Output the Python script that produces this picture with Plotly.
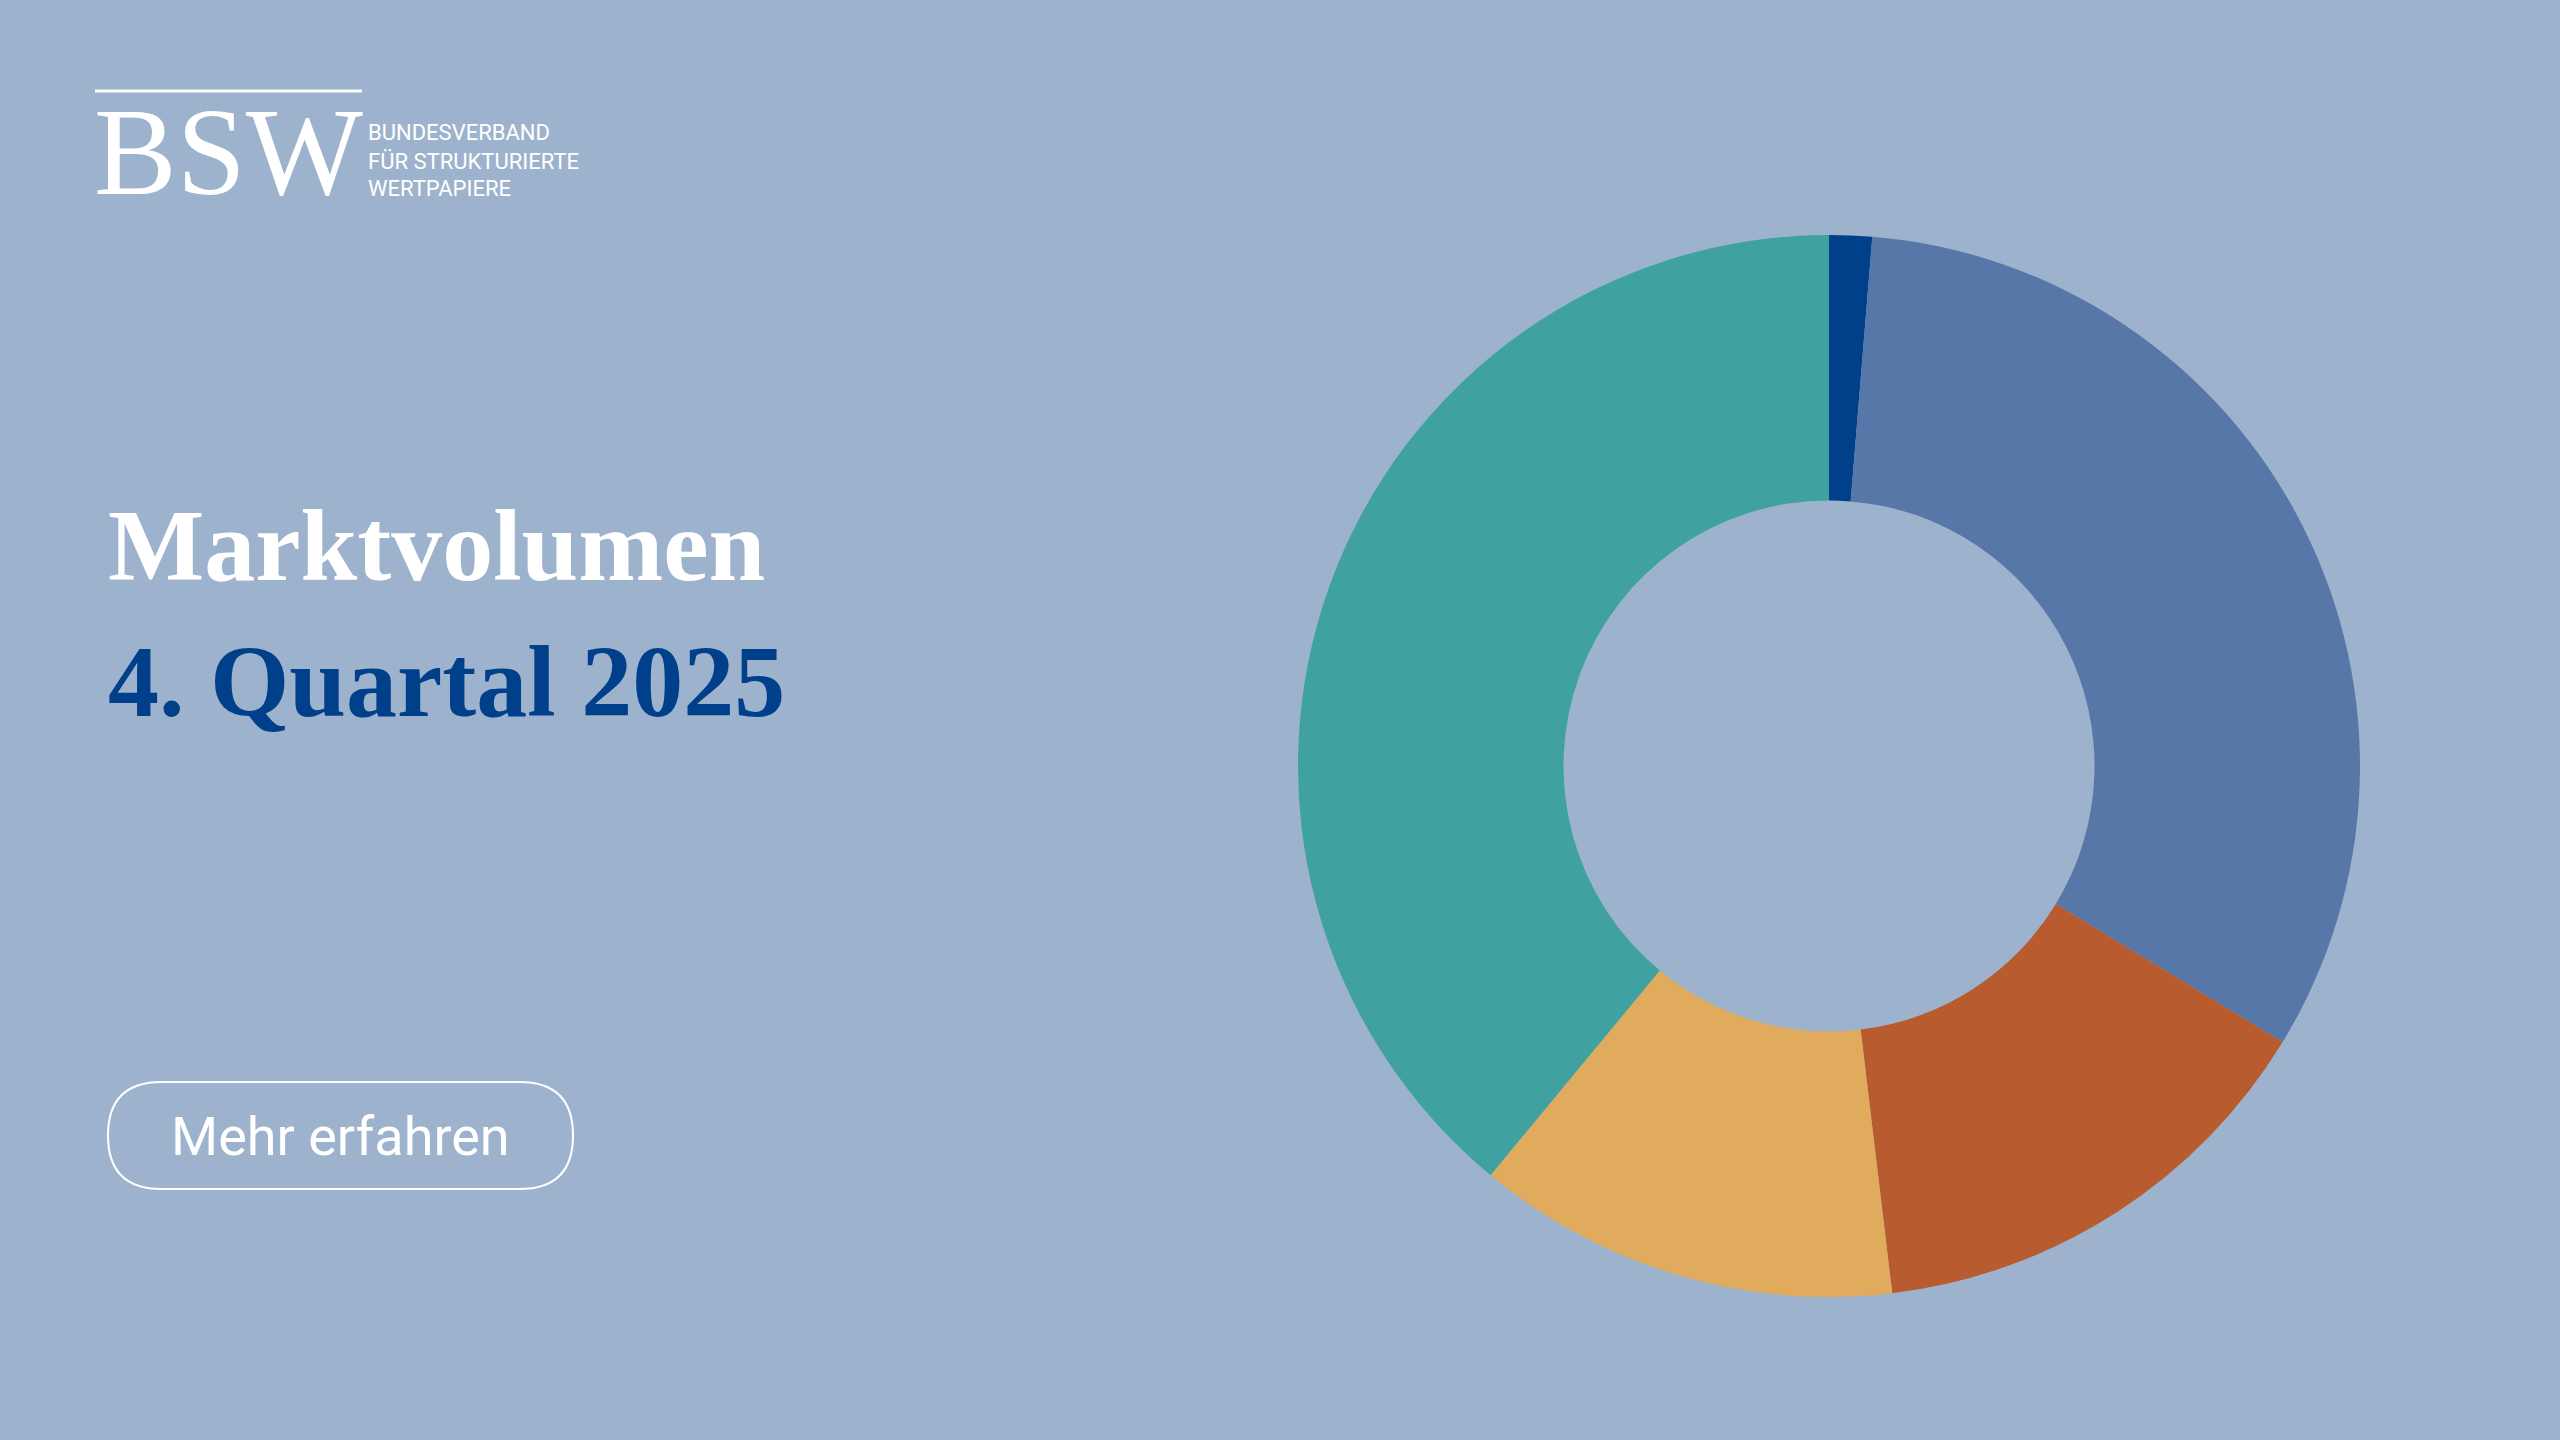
import plotly.graph_objects as go

W, H = 2560, 1440
labels = ["Segment A", "Segment B", "Segment C", "Segment D", "Segment E"]
values = [1.3, 32.4, 14.4, 12.9, 39.0]
colors = ["#003f8a", "#5677a8", "#b85b2e", "#e0ab5c", "#3fa2a1"]
BG = "#9db3cd"

def px(x): return x / W
def py(y): return 1 - y / H

cx, cy, r = 1829, 766, 531
fig = go.Figure(go.Pie(labels=labels, values=values, hole=0.5, sort=False,
                       direction="clockwise", rotation=0,
                       marker=dict(colors=colors, line=dict(width=0)),
                       textinfo="none", hoverinfo="label+percent",
                       domain=dict(x=[px(cx - r), px(cx + r)], y=[py(cy + r), py(cy - r)])))

serif = "Liberation Serif, DejaVu Serif, serif"
ann = [
    dict(x=px(92), y=py(153), text="BSW", font=dict(family="Liberation Serif", size=124, color="white"), xanchor="left", yanchor="middle"),
    dict(x=px(366), y=py(132), text="BUNDESVERBAND", font=dict(family="Roboto", size=22, color="white"), xanchor="left", yanchor="middle"),
    dict(x=px(366), y=py(161), text="FÜR STRUKTURIERTE", font=dict(family="Roboto", size=22, color="white"), xanchor="left", yanchor="middle"),
    dict(x=px(366), y=py(189), text="WERTPAPIERE", font=dict(family="Roboto", size=22, color="white"), xanchor="left", yanchor="middle"),
    dict(x=px(106), y=py(545), text="<b>Marktvolumen</b>", font=dict(family=serif, size=102, color="white"), xanchor="left", yanchor="middle"),
    dict(x=px(106), y=py(681), text="<b>4. Quartal 2025</b>", font=dict(family=serif, size=102, color="#003f8a"), xanchor="left", yanchor="middle"),
    dict(x=px(340), y=py(1136), text="Mehr erfahren", font=dict(family="Roboto", size=54, color="white"), xanchor="center", yanchor="middle"),
]
for a in ann:
    a.update(xref="paper", yref="paper", showarrow=False)

x0, x1, y0, y1 = 108, 573, 1082, 1189
rr = (y1 - y0) / 2
path = (f"M {px(x0+rr)} {py(y0)} L {px(x1-rr)} {py(y0)} "
        f"Q {px(x1)} {py(y0)} {px(x1)} {py(y0+rr)} Q {px(x1)} {py(y1)} {px(x1-rr)} {py(y1)} "
        f"L {px(x0+rr)} {py(y1)} Q {px(x0)} {py(y1)} {px(x0)} {py(y0+rr)} "
        f"Q {px(x0)} {py(y0)} {px(x0+rr)} {py(y0)} Z")
shapes = [
    dict(type="path", path=path, xref="paper", yref="paper", line=dict(color="white", width=2)),
    dict(type="line", x0=px(95), x1=px(362), y0=py(91), y1=py(91), xref="paper", yref="paper", line=dict(color="white", width=3)),
]

fig.update_layout(width=W, height=H, margin=dict(l=0, r=0, t=0, b=0),
                  paper_bgcolor=BG, plot_bgcolor=BG, showlegend=False,
                  annotations=ann, shapes=shapes)
fig.write_html("out.html", config={"displayModeBar": False})
with open("out.html", encoding="utf-8") as f:
    html = f.read()
html = html.replace("<head>", "<head><style>html,body{margin:0;padding:0;background:#9db3cd;overflow:hidden}</style>", 1)
with open("out.html", "w", encoding="utf-8") as f:
    f.write(html)
